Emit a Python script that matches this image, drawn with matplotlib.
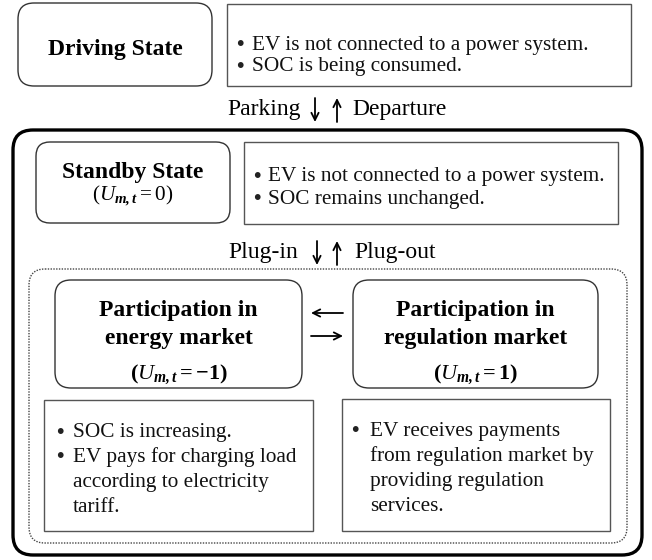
import matplotlib
matplotlib.use("Agg")
import matplotlib.pyplot as plt
from matplotlib.patches import FancyBboxPatch, Rectangle

plt.rcParams['font.family'] = ['Liberation Serif', 'DejaVu Serif']
plt.rcParams['mathtext.fontset'] = 'custom'
plt.rcParams['mathtext.rm'] = 'Liberation Serif'
plt.rcParams['mathtext.it'] = 'Liberation Serif:italic'
plt.rcParams['mathtext.bf'] = 'Liberation Serif:bold'
plt.rcParams['mathtext.bfit'] = 'Liberation Serif:italic:bold'

# ---- content ----
state_titles = ["Driving State", "Standby State", ["Participation in", "energy market"],
                ["Participation in", "regulation market"]]
state_labels = ["", r"$(U_{\mathbfit{m,t}}=0)$", r"$\mathbf{(}U_{\mathbfit{m,t}}\mathbf{=-1)}$",
                r"$\mathbf{(}U_{\mathbfit{m,t}}\mathbf{=1)}$"]
driving_notes = [["EV is not connected to a power system."], ["SOC is being consumed."]]
standby_notes = [["EV is not connected to a power system."], ["SOC remains unchanged."]]
energy_notes = [["SOC is increasing."],
                ["EV pays for charging load", "according to electricity", "tariff."]]
regulation_notes = [["EV receives payments", "from regulation market by",
                     "providing regulation", "services."]]
transition_1 = ("Parking", "Departure")
transition_2 = ("Plug-in", "Plug-out")

fig = plt.figure(figsize=(6.52, 5.6), dpi=100)
ax = fig.add_axes([0, 0, 1, 1])
ax.set_xlim(0, 652)
ax.set_ylim(560, 0)
ax.axis('off')

BODY = 15.3
TITLE = 17
TRANS = 17
OFF = 2.5  # vertical nudge for centred text


def rbox(x0, y0, x1, y1, r=14, lw=1.0, color='#333333', ls='-'):
    p = FancyBboxPatch((x0, y0), x1 - x0, y1 - y0,
                       boxstyle=f"round,pad=0,rounding_size={r}",
                       fc='none', ec=color, lw=lw, ls=ls)
    ax.add_patch(p)


def sbox(x0, y0, x1, y1, lw=1.0, color='#555555'):
    ax.add_patch(Rectangle((x0, y0), x1 - x0, y1 - y0, fc='none', ec=color, lw=lw))


def bullets(x_dot, x_txt, y0, items, dy):
    y = y0
    for lines in items:
        ax.text(x_dot, y + OFF, "•", fontsize=BODY, fontweight='bold',
                va='center', ha='center', color='#222222')
        for ln in lines:
            ax.text(x_txt, y + OFF, ln, fontsize=BODY, va='center', ha='left', color='#111111')
            y += dy


def vpair(x_down, x_up, yc, h=24):
    ax.annotate("", xy=(x_down, yc + h / 2), xytext=(x_down, yc - h / 2),
                arrowprops=dict(arrowstyle='->', lw=1.3, color='black',
                                mutation_scale=13, shrinkA=0, shrinkB=0))
    ax.annotate("", xy=(x_up, yc - h / 2), xytext=(x_up, yc + h / 2),
                arrowprops=dict(arrowstyle='->', lw=1.3, color='black',
                                mutation_scale=13, shrinkA=0, shrinkB=0))


# Driving state
rbox(18, 3, 212, 86, r=16, lw=1.0)
ax.text(115, 47 + OFF, state_titles[0], fontsize=TITLE, fontweight='bold', ha='center', va='center')
sbox(227, 4, 631, 86)
bullets(240, 252, 43, driving_notes, 21)

# transition 1
ax.text(301, 107 + OFF, transition_1[0], fontsize=TRANS, ha='right', va='center')
ax.text(352, 107 + OFF, transition_1[1], fontsize=TRANS, ha='left', va='center')
vpair(315, 337, 110)

# outer thick box
rbox(13, 130, 642, 555, r=20, lw=2.4, color='black')

# standby
rbox(36, 142, 230, 223, r=14, lw=1.0)
ax.text(133, 170 + OFF, state_titles[1], fontsize=TITLE, fontweight='bold', ha='center', va='center')
ax.text(133, 193 + OFF, state_labels[1], fontsize=BODY, ha='center', va='center')
sbox(244, 142, 618, 224)
bullets(257, 268, 174, standby_notes, 23)

# transition 2
ax.text(298, 250 + OFF, transition_2[0], fontsize=TRANS, ha='right', va='center')
ax.text(354, 250 + OFF, transition_2[1], fontsize=TRANS, ha='left', va='center')
vpair(317, 337, 253)

# dotted group
rbox(29, 269, 627, 543, r=16, lw=1.0, color='#444444', ls=(0, (1, 1)))

# energy / regulation
for (x0, x1), title, lab in [((55, 302), state_titles[2], state_labels[2]),
                             ((353, 598), state_titles[3], state_labels[3])]:
    rbox(x0, 280, x1, 388, r=16, lw=1.0)
    xc = (x0 + x1) / 2
    ax.text(xc, 308 + OFF, title[0], fontsize=TITLE, fontweight='bold', ha='center', va='center')
    ax.text(xc, 336 + OFF, title[1], fontsize=TITLE, fontweight='bold', ha='center', va='center')
    ax.text(xc, 372 + OFF, lab, fontsize=BODY + 0.7, ha='center', va='center')

# horizontal arrows
ax.annotate("", xy=(311, 313), xytext=(343, 313),
            arrowprops=dict(arrowstyle='->', lw=1.3, color='black', mutation_scale=13,
                            shrinkA=0, shrinkB=0))
ax.annotate("", xy=(343, 336), xytext=(311, 336),
            arrowprops=dict(arrowstyle='->', lw=1.3, color='black', mutation_scale=13,
                            shrinkA=0, shrinkB=0))

# bottom boxes
sbox(44, 400, 313, 531)
sbox(342, 399, 610, 531)
bullets(60, 73, 430, energy_notes, 25)
bullets(355, 370, 429, regulation_notes, 25)

fig.savefig("out.png", dpi=100)
